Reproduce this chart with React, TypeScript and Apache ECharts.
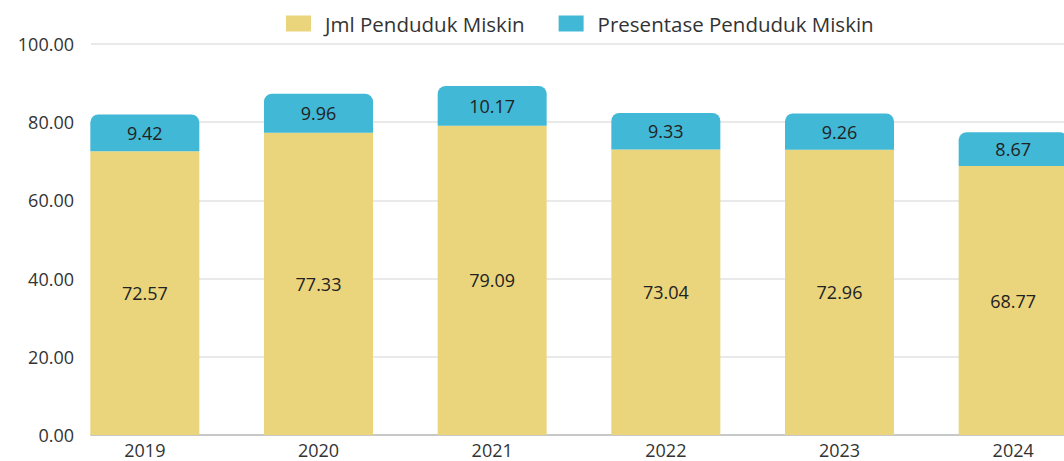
import React, { useEffect, useRef } from "react";
import * as echarts from "echarts";

const categories = ["2019", "2020", "2021", "2022", "2023", "2024"];
const jmlPenduduk = [72.57, 77.33, 79.09, 73.04, 72.96, 68.77];
const presentase = [9.42, 9.96, 10.17, 9.33, 9.26, 8.67];
const seriesNames = ["Jml Penduduk Miskin", "Presentase Penduduk Miskin"];

const FONT = "Open Sans";

export default function App() {
  const ref = useRef<HTMLDivElement>(null);
  useEffect(() => {
    if (!ref.current) return;
    const chart = echarts.init(ref.current, undefined, { renderer: "svg" });
    const labelStyle = {
      show: true,
      position: "inside" as const,
      color: "#222",
      fontFamily: FONT,
      fontSize: 18,
      formatter: (p: any) => Number(p.value).toFixed(2),
    };
    chart.setOption({
      animation: false,
      backgroundColor: "#fff",
      legend: {
        top: 8,
        left: 281,
        itemWidth: 25,
        itemHeight: 16,
        itemGap: 34,
        icon: "rect",
        textStyle: {
          fontFamily: FONT,
          fontSize: 20.5,
          color: "#333",
          padding: [0, 0, 0, 9],
        },
        data: seriesNames,
      },
      grid: [
        { left: 91, right: 0, top: 44, bottom: 26, outerBoundsMode: "none" },
        { left: 58, width: 1042, top: 44, bottom: 26, outerBoundsMode: "none" },
      ],
      xAxis: [
        {
          type: "category",
          gridIndex: 0,
          data: categories,
          axisLine: { show: true, lineStyle: { color: "#c8c8c8", width: 2 } },
          axisTick: { show: false },
          axisLabel: { show: false },
        },
        {
          type: "category",
          gridIndex: 1,
          data: categories,
          axisLine: { show: false },
          axisTick: { show: false },
          axisLabel: {
            show: true,
            margin: 6,
            color: "#333",
            fontFamily: FONT,
            fontSize: 18,
          },
        },
      ],
      yAxis: [
        {
          type: "value",
          gridIndex: 0,
          min: 0,
          max: 100,
          interval: 20,
          axisLine: { show: false },
          axisTick: { show: false },
          axisLabel: {
            margin: 17,
            color: "#333",
            fontFamily: FONT,
            fontSize: 18,
            formatter: (v: number) => v.toFixed(2),
          },
          splitLine: { lineStyle: { color: "#e2e2e2", width: 1.5 } },
        },
        {
          type: "value",
          gridIndex: 1,
          min: 0,
          max: 100,
          interval: 20,
          show: false,
          splitLine: { show: false },
        },
      ],
      series: [
        {
          name: seriesNames[0],
          type: "bar",
          xAxisIndex: 1,
          yAxisIndex: 1,
          stack: "total",
          barWidth: 109,
          itemStyle: { color: "#EAD57D" },
          label: labelStyle,
          data: jmlPenduduk,
        },
        {
          name: seriesNames[1],
          type: "bar",
          xAxisIndex: 1,
          yAxisIndex: 1,
          stack: "total",
          barWidth: 109,
          itemStyle: { color: "#41B8D6", borderRadius: [8, 8, 0, 0] },
          label: labelStyle,
          data: presentase,
        },
      ],
    });
    return () => chart.dispose();
  }, []);
  return (
    <div
      ref={ref}
      style={{ position: "absolute", left: 0, top: 0, width: 1064, height: 461 }}
    />
  );
}
